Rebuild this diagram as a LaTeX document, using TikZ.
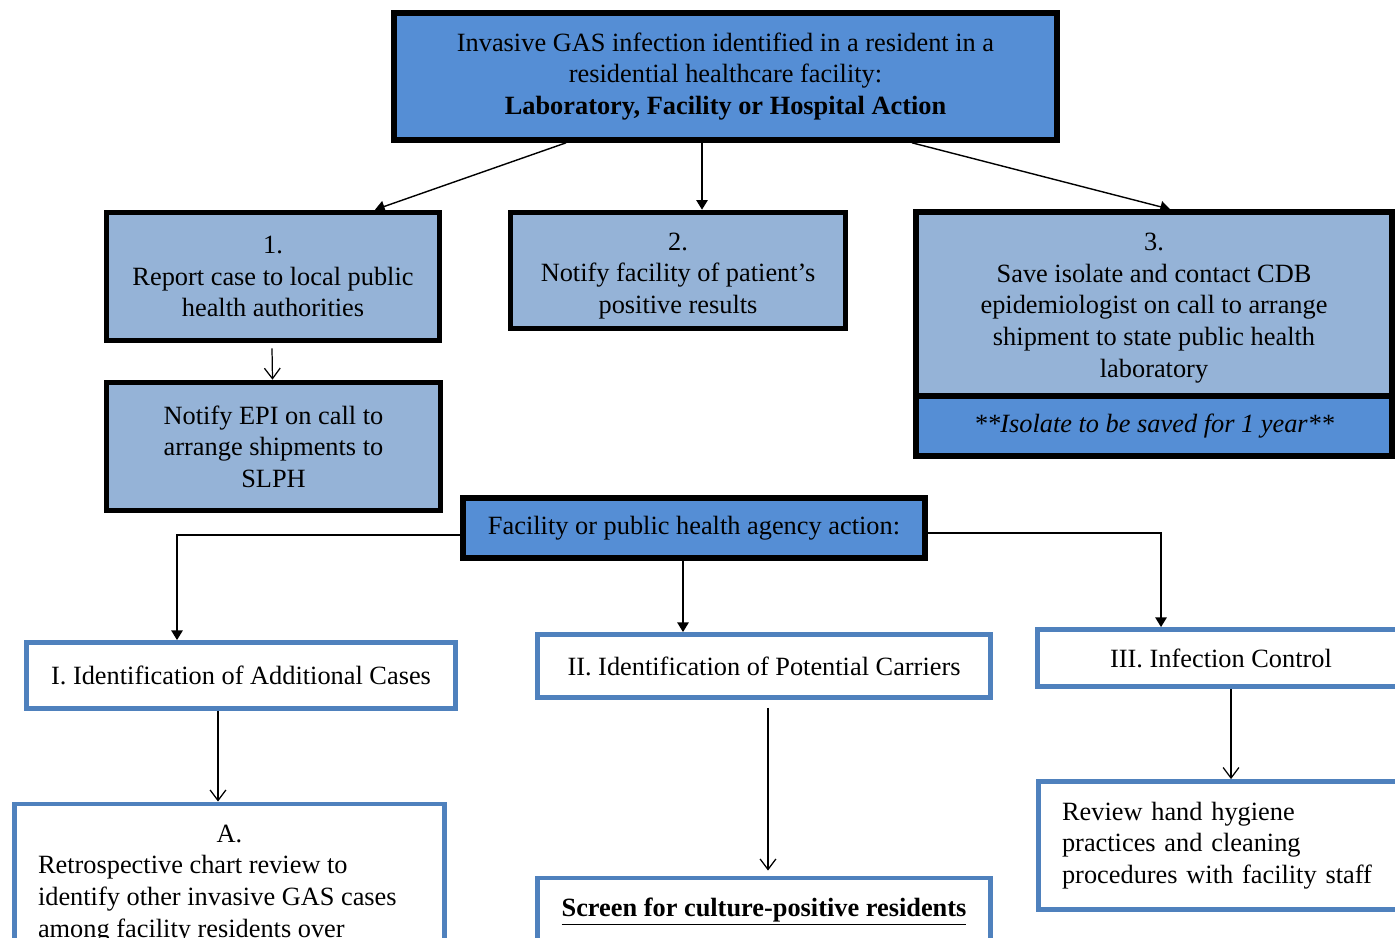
\documentclass[tikz,border=0pt]{standalone}
\usepackage{fontspec}
\setmainfont{Liberation Serif}
\usepackage{xcolor}
\definecolor{gasMid}{HTML}{558ED5}
\definecolor{gasLight}{HTML}{95B3D7}
\definecolor{gasEdge}{HTML}{4F81BD}
\usetikzlibrary{calc}
\usetikzlibrary{arrows.meta}
\tikzset{
    leadbox/.style={draw=black, fill=gasMid, line width=3.2pt, align=center, inner sep=0pt},
    stepbox/.style={draw=black, fill=gasLight, line width=3.2pt, align=center, inner sep=0pt},
    taskbox/.style={draw=gasEdge, fill=white, line width=2.8pt, align=center, inner sep=0pt},
    fillArr/.style={draw=black, line width=0.8pt, -{Triangle[length=5.5pt,width=6.5pt]}},
    openArr/.style={draw=black, line width=0.7pt, -{Straight Barb[length=6pt,width=9pt]}}
}

\begin{document}
\begin{tikzpicture}[x=0.02cm, y=-0.02cm, every node/.style={font=\fontsize{15}{18}\selectfont}]
  % Page frame
  \useasboundingbox (0,0) rectangle (1395,937);
  \begin{scope}
  \clip (0,0) rectangle (1395,937);

  % Laboratory, facility or hospital action
  \node[leadbox, minimum width=13.26cm, minimum height=2.54cm] (lead) at (725.5,76.5)
    {Invasive GAS infection identified in a resident in a\\ residential healthcare facility:\\ \textbf{Laboratory, Facility or Hospital Action}};

  \node[stepbox, minimum width=6.66cm, minimum height=2.56cm] (report) at (273,276.5)
    {1.\\ Report case to local public\\ health authorities};
  \node[stepbox, minimum width=6.7cm, minimum height=2.32cm] (notify) at (678,270.5)
    {\rule{0pt}{16pt}2.\\ Notify facility of patient’s\\ positive results};
  \node[stepbox, minimum width=9.52cm, minimum height=3.68cm] (save) at (1154,304)
    {\rule{0pt}{14.5pt}3.\\ Save isolate and contact CDB\\ epidemiologist on call to arrange\\ shipment to state public health\\ laboratory};
  \node[leadbox, minimum width=9.52cm, minimum height=1.2cm] (keep) at (1154,426)
    {\itshape **Isolate to be saved for 1 year**};
  \node[stepbox, minimum width=6.68cm, minimum height=2.56cm] (epi) at (273.5,446.5)
    {Notify EPI on call to\\ arrange shipments to\\ SLPH};

  % Facility or public health agency action
  \node[leadbox, minimum width=9.24cm, minimum height=1.2cm] (agency) at (694,528)
    {Facility or public health agency action:};

  \node[taskbox, minimum width=8.58cm, minimum height=1.32cm] (cases) at (241,675.5)
    {I. Identification of Additional Cases};
  \node[taskbox, minimum width=9.06cm, minimum height=1.26cm] (carriers) at (764,666)
    {II. Identification of Potential Carriers};
  \node[taskbox, minimum width=7.34cm, minimum height=1.14cm] (control) at (1221,658)
    {III. Infection Control};

  \node[taskbox, anchor=north, inner xsep=0.47cm, inner ysep=0.42cm] (chart) at (229.5,801.5)
    {\parbox[c][3.13cm][t]{7.66cm}{\centering A.\par\raggedright Retrospective chart review to\\ identify other invasive GAS cases\\ among facility residents over}};
  \node[taskbox, anchor=north, inner ysep=0.4cm] (screen) at (764,875.5)
    {\parbox[c][2cm][t]{9.06cm}{\centering\bfseries\underline{Screen for culture-positive residents}}};
  \node[taskbox, minimum width=7.32cm, minimum height=2.56cm, inner xsep=0.47cm, text width=6.38cm, align=left] (hygiene) at (1221.5,845.5)
    {Review hand hygiene\\ practices and cleaning\\ procedures with facility staff};

  % Connectors
  \draw[fillArr] ([xshift=-3.19cm]lead.south) -- ([xshift=2.04cm]report.north);
  \draw[fillArr] ([xshift=-0.47cm]lead.south) -- ([xshift=-0.47cm]lead.south |- notify.north);
  \draw[fillArr] ([xshift=3.73cm]lead.south) -- ([xshift=0.32cm]save.north);
  \draw[openArr] ([xshift=-0.02cm,yshift=-0.1cm]report.south) -- ([xshift=-0.02cm]epi.north);

  \draw[fillArr] ([yshift=-0.14cm]agency.west) -| ([xshift=-1.28cm]cases.north);
  \draw[fillArr] ([xshift=-0.22cm]agency.south) -- ([xshift=-0.22cm]agency.south |- carriers.north);
  \draw[fillArr] ([yshift=-0.1cm]agency.east) -| ([xshift=-1.2cm]control.north);

  \draw[openArr] ([xshift=-0.46cm]cases.south) -- ([xshift=-0.46cm]cases.south |- chart.north);
  \draw[openArr, shorten >=0.1cm] ([xshift=0.08cm,yshift=-0.16cm]carriers.south) -- ([xshift=0.08cm]carriers.south |- screen.north);
  \draw[openArr] ([xshift=0.2cm]control.south) -- ([xshift=0.2cm]control.south |- hygiene.north);
  \end{scope}
\end{tikzpicture}
\end{document}
